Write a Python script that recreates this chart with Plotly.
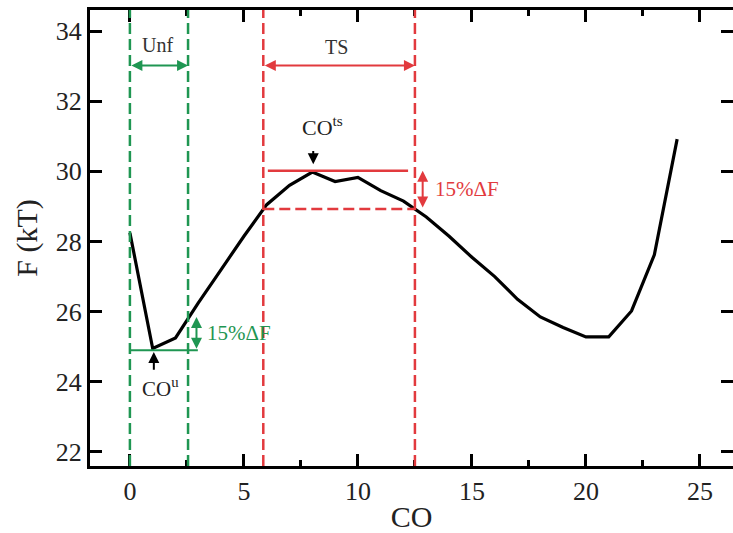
import plotly.graph_objects as go

# ---- data ----
co = [0, 1, 2, 3, 4, 5, 6, 7, 8, 9, 10, 11, 12, 13, 14, 15, 16, 17, 18, 19, 20, 21, 22, 23, 24]
free_energy = [28.25, 24.95, 25.25, 26.25, 27.2, 28.15, 29.05, 29.6, 29.98, 29.71, 29.83,
               29.45, 29.15, 28.7, 28.15, 27.55, 27.0, 26.35, 25.85, 25.55, 25.28, 25.28,
               26.02, 27.62, 30.92]

x_ticks = [0, 5, 10, 15, 20, 25]
y_ticks = [22, 24, 26, 28, 30, 32, 34]

# annotation geometry (data units)
unf_left, unf_right = 0.0, 2.55
ts_left, ts_right = 5.85, 12.5
f_min, f_min_top = 24.9, 25.85
f_ts_top, f_ts_low = 30.02, 28.93
co_u, co_ts = 1.05, 8.04
span_y = 33.02

GREEN = "#1f9652"
RED = "#e23a3e"
FONT = "Liberation Serif"

fig = go.Figure()
fig.add_trace(go.Scatter(x=co, y=free_energy, mode="lines",
                         line=dict(color="black", width=3.2), showlegend=False,
                         hoverinfo="skip"))

shapes = []
dash = "11px,5px"
for xv in (unf_left, unf_right):
    shapes.append(dict(type="line", xref="x", yref="paper", x0=xv, x1=xv, y0=0, y1=1,
                       line=dict(color=GREEN, width=2.5, dash=dash)))
for xv in (ts_left, ts_right):
    shapes.append(dict(type="line", xref="x", yref="paper", x0=xv, x1=xv, y0=0, y1=1,
                       line=dict(color=RED, width=2.5, dash=dash)))
shapes.append(dict(type="line", xref="x", yref="y", x0=unf_left, x1=2.98, y0=f_min, y1=f_min,
                   line=dict(color=GREEN, width=2.2)))
shapes.append(dict(type="line", xref="x", yref="y", x0=6.05, x1=12.2, y0=f_ts_top, y1=f_ts_top,
                   line=dict(color=RED, width=2.5)))
shapes.append(dict(type="line", xref="x", yref="y", x0=ts_left, x1=ts_right, y0=f_ts_low, y1=f_ts_low,
                   line=dict(color=RED, width=2.5, dash=dash)))

ann = []
def arrow(x, y, ax, ay, color, both=False, width=2):
    d = dict(x=x, y=y, ax=ax, ay=ay, xref="x", yref="y", axref="x", ayref="y",
             text="", showarrow=True, arrowhead=2, arrowsize=1.1, arrowwidth=width,
             arrowcolor=color)
    if both:
        d["arrowside"] = "end+start"
        d["startarrowhead"] = 2
        d["startarrowsize"] = 1.1
    ann.append(d)

arrow(unf_right, span_y, unf_left, span_y, GREEN, both=True)
arrow(ts_right, span_y, ts_left, span_y, RED, both=True)
arrow(2.92, f_min_top, 2.92, f_min, GREEN, both=True)
arrow(12.84, f_ts_top, 12.84, f_ts_low, RED, both=True)
arrow(co_u, 24.85, co_u, 24.3, "black")
arrow(co_ts, 30.2, co_ts, 30.62, "black")

def label(x, y, text, color, size, xanchor="center"):
    ann.append(dict(x=x, y=y, xref="x", yref="y", text=text, showarrow=False,
                    xanchor=xanchor, yanchor="middle",
                    font=dict(family=FONT, size=size, color=color)))

label(1.2, 33.6, "Unf", "#333333", 20)
label(9.05, 33.55, "TS", "#333333", 20)
label(8.45, 31.3, "CO<sup>ts</sup>", "#222222", 22)
label(1.35, 23.85, "CO<sup>u</sup>", "#222222", 21)
label(3.3, 25.4, "15%ΔF", GREEN, 21, xanchor="left")
label(13.3, 29.5, "15%ΔF", RED, 21, xanchor="left")

axis_common = dict(showline=True, linecolor="black", linewidth=3, mirror="allticks",
                   ticks="inside", tickcolor="black", tickwidth=3, ticklen=12,
                   showgrid=False, zeroline=False, automargin=False,
                   tickfont=dict(family=FONT, size=26, color="#222222"))

fig.update_layout(
    template="none",
    width=733, height=533,
    margin=dict(l=90, r=0, t=10, b=67, autoexpand=False),
    paper_bgcolor="white", plot_bgcolor="white",
    shapes=shapes, annotations=ann,
    xaxis=dict(range=[-1.75, 26.45], tickvals=x_ticks,
               minor=dict(dtick=2.5, tick0=0, ticks="inside", ticklen=6, tickwidth=3, tickcolor="black"),
               title=dict(text="CO", font=dict(family=FONT, size=30, color="#222222"), standoff=2),
               **axis_common),
    yaxis=dict(range=[21.6, 34.6], tickvals=y_ticks,
               title=dict(text="F (kT)", font=dict(family=FONT, size=30, color="#222222"), standoff=10),
               **axis_common),
    showlegend=False,
)

fig.write_html("out.html")
